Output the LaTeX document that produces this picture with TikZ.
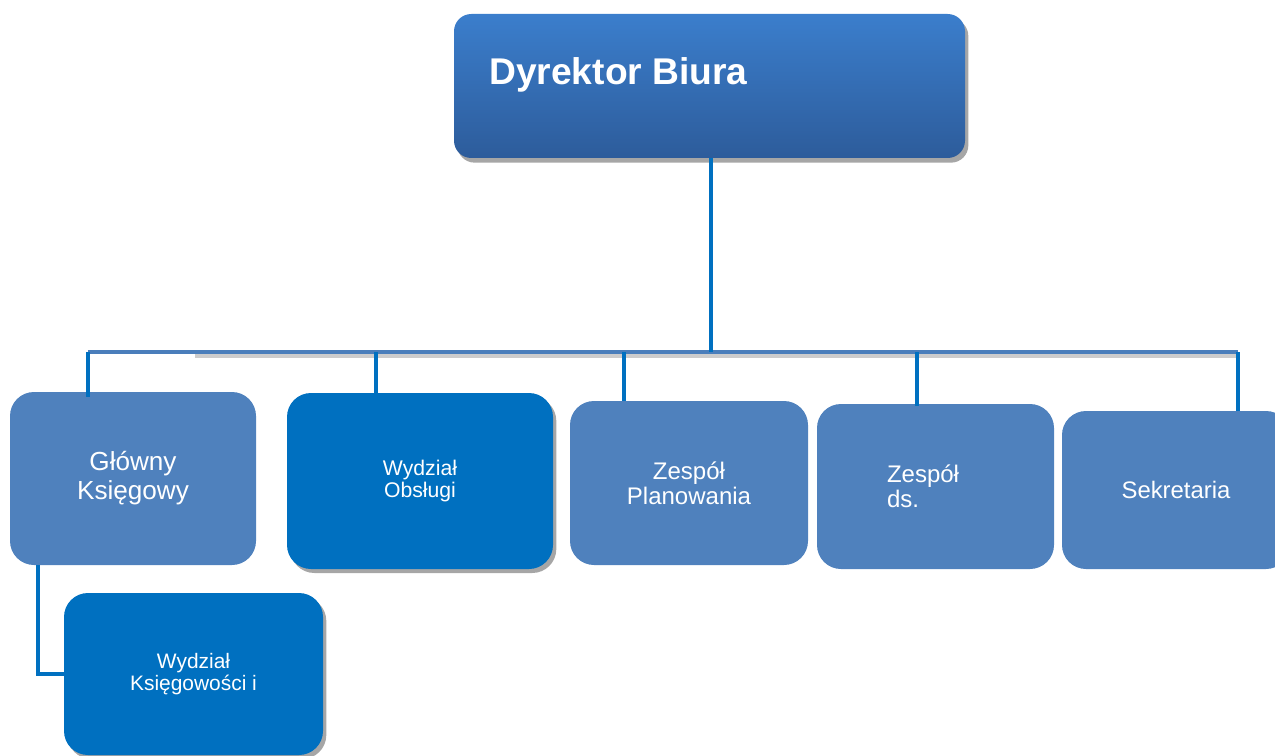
\documentclass[tikz,border=0pt]{standalone}
\usepackage{fontspec}
\setmainfont{Liberation Sans}
\usetikzlibrary{shadows}
\definecolor{boxblue}{HTML}{4F81BD}
\definecolor{darkblue}{HTML}{0070C0}
\definecolor{dirtop}{HTML}{3B7ECC}
\definecolor{dirbot}{HTML}{2D5C9B}
\definecolor{linehor}{HTML}{4A7EBB}
\tikzset{
  orgbox/.style={rectangle, rounded corners=18pt, inner sep=0pt, text=white, align=center},
  lightbox/.style={orgbox, fill=boxblue},
  darkbox/.style={orgbox, fill=darkblue},
  boxshadow/.style={drop shadow={shadow xshift=2.5pt, shadow yshift=-3pt, fill=black!35, opacity=1}},
  vline/.style={draw=darkblue, line width=3pt},
  hline/.style={draw=linehor, line width=3pt},
}
\begin{document}
\begin{tikzpicture}[x=0.75pt,y=-0.75pt]
\useasboundingbox (0,0) rectangle (1275,756);
\clip (0,0) rectangle (1275,756);

% top box
\node[rectangle, rounded corners=13pt, top color=dirtop, bottom color=dirbot,
      drop shadow={shadow xshift=2.5pt, shadow yshift=-3.5pt, fill=black!35, opacity=1},
      minimum width=383.25pt, minimum height=108pt, inner sep=0pt] (dir) at (709.5,86) {};
\node[anchor=base west, inner sep=0pt, text=white, font=\bfseries\fontsize{27.9pt}{32pt}\selectfont] (dirtext) at (489,85) {Dyrektor Biura};

% bus
\coordinate (bus) at (711,352);
\coordinate (busL) at (88,352);
\coordinate (busR) at (1238,352);
\coordinate (b2) at (376,352);
\coordinate (b3) at (624,352);
\coordinate (b4) at (917,352);
\coordinate (shL) at (195,356);
\coordinate (shR) at (1238,356);
\draw[draw=black!20, line width=3pt] (shL) -- (shR);
\draw[hline] (busL) -- (busR);
\draw[vline] (dir.south -| bus) -- (bus);

% boxes
\node[lightbox, minimum width=184.5pt, minimum height=129.75pt,
      font=\fontsize{19.6pt}{21.75pt}\selectfont] (gk) at (133,478.5) {Główny\\Księgowy};
\node[darkbox, boxshadow, minimum width=199.5pt, minimum height=132pt,
      font=\fontsize{15.9pt}{16.5pt}\selectfont] (wo) at (420,481) {Wydział\\Obsługi};
\node[lightbox, minimum width=178.5pt, minimum height=123pt,
      font=\fontsize{18pt}{19pt}\selectfont] (zp) at (689,483) {Zespół\\Planowania};
\node[lightbox, minimum height=123.75pt, inner xsep=52.5pt, text width=72.75pt, align=left,
      font=\fontsize{18pt}{18.75pt}\selectfont] (zd) at (935.5,486.5) {Zespół\\ds.};
\node[lightbox, minimum width=171pt, minimum height=118.5pt,
      font=\fontsize{17.9pt}{19pt}\selectfont] (sk) at (1176,490) {Sekretaria};
\node[darkbox, boxshadow, minimum width=194.25pt, minimum height=121.5pt,
      font=\fontsize{15.7pt}{16.8pt}\selectfont] (wk) at (193.5,674) {Wydział\\Księgowości i};

% drops
\draw[vline] (busL) -- ([yshift=-4pt]busL |- gk.north);
\draw[vline] (b2) -- (b2 |- wo.north);
\draw[vline] (b3) -- (b3 |- zp.north);
\draw[vline] (b4) -- ([yshift=-2pt]b4 |- zd.north);
\draw[vline] (busR) -- (busR |- sk.north);

\coordinate (k1) at (38,0);
\draw[vline] (gk.south -| k1) |- (wk.west);
\end{tikzpicture}
\end{document}
